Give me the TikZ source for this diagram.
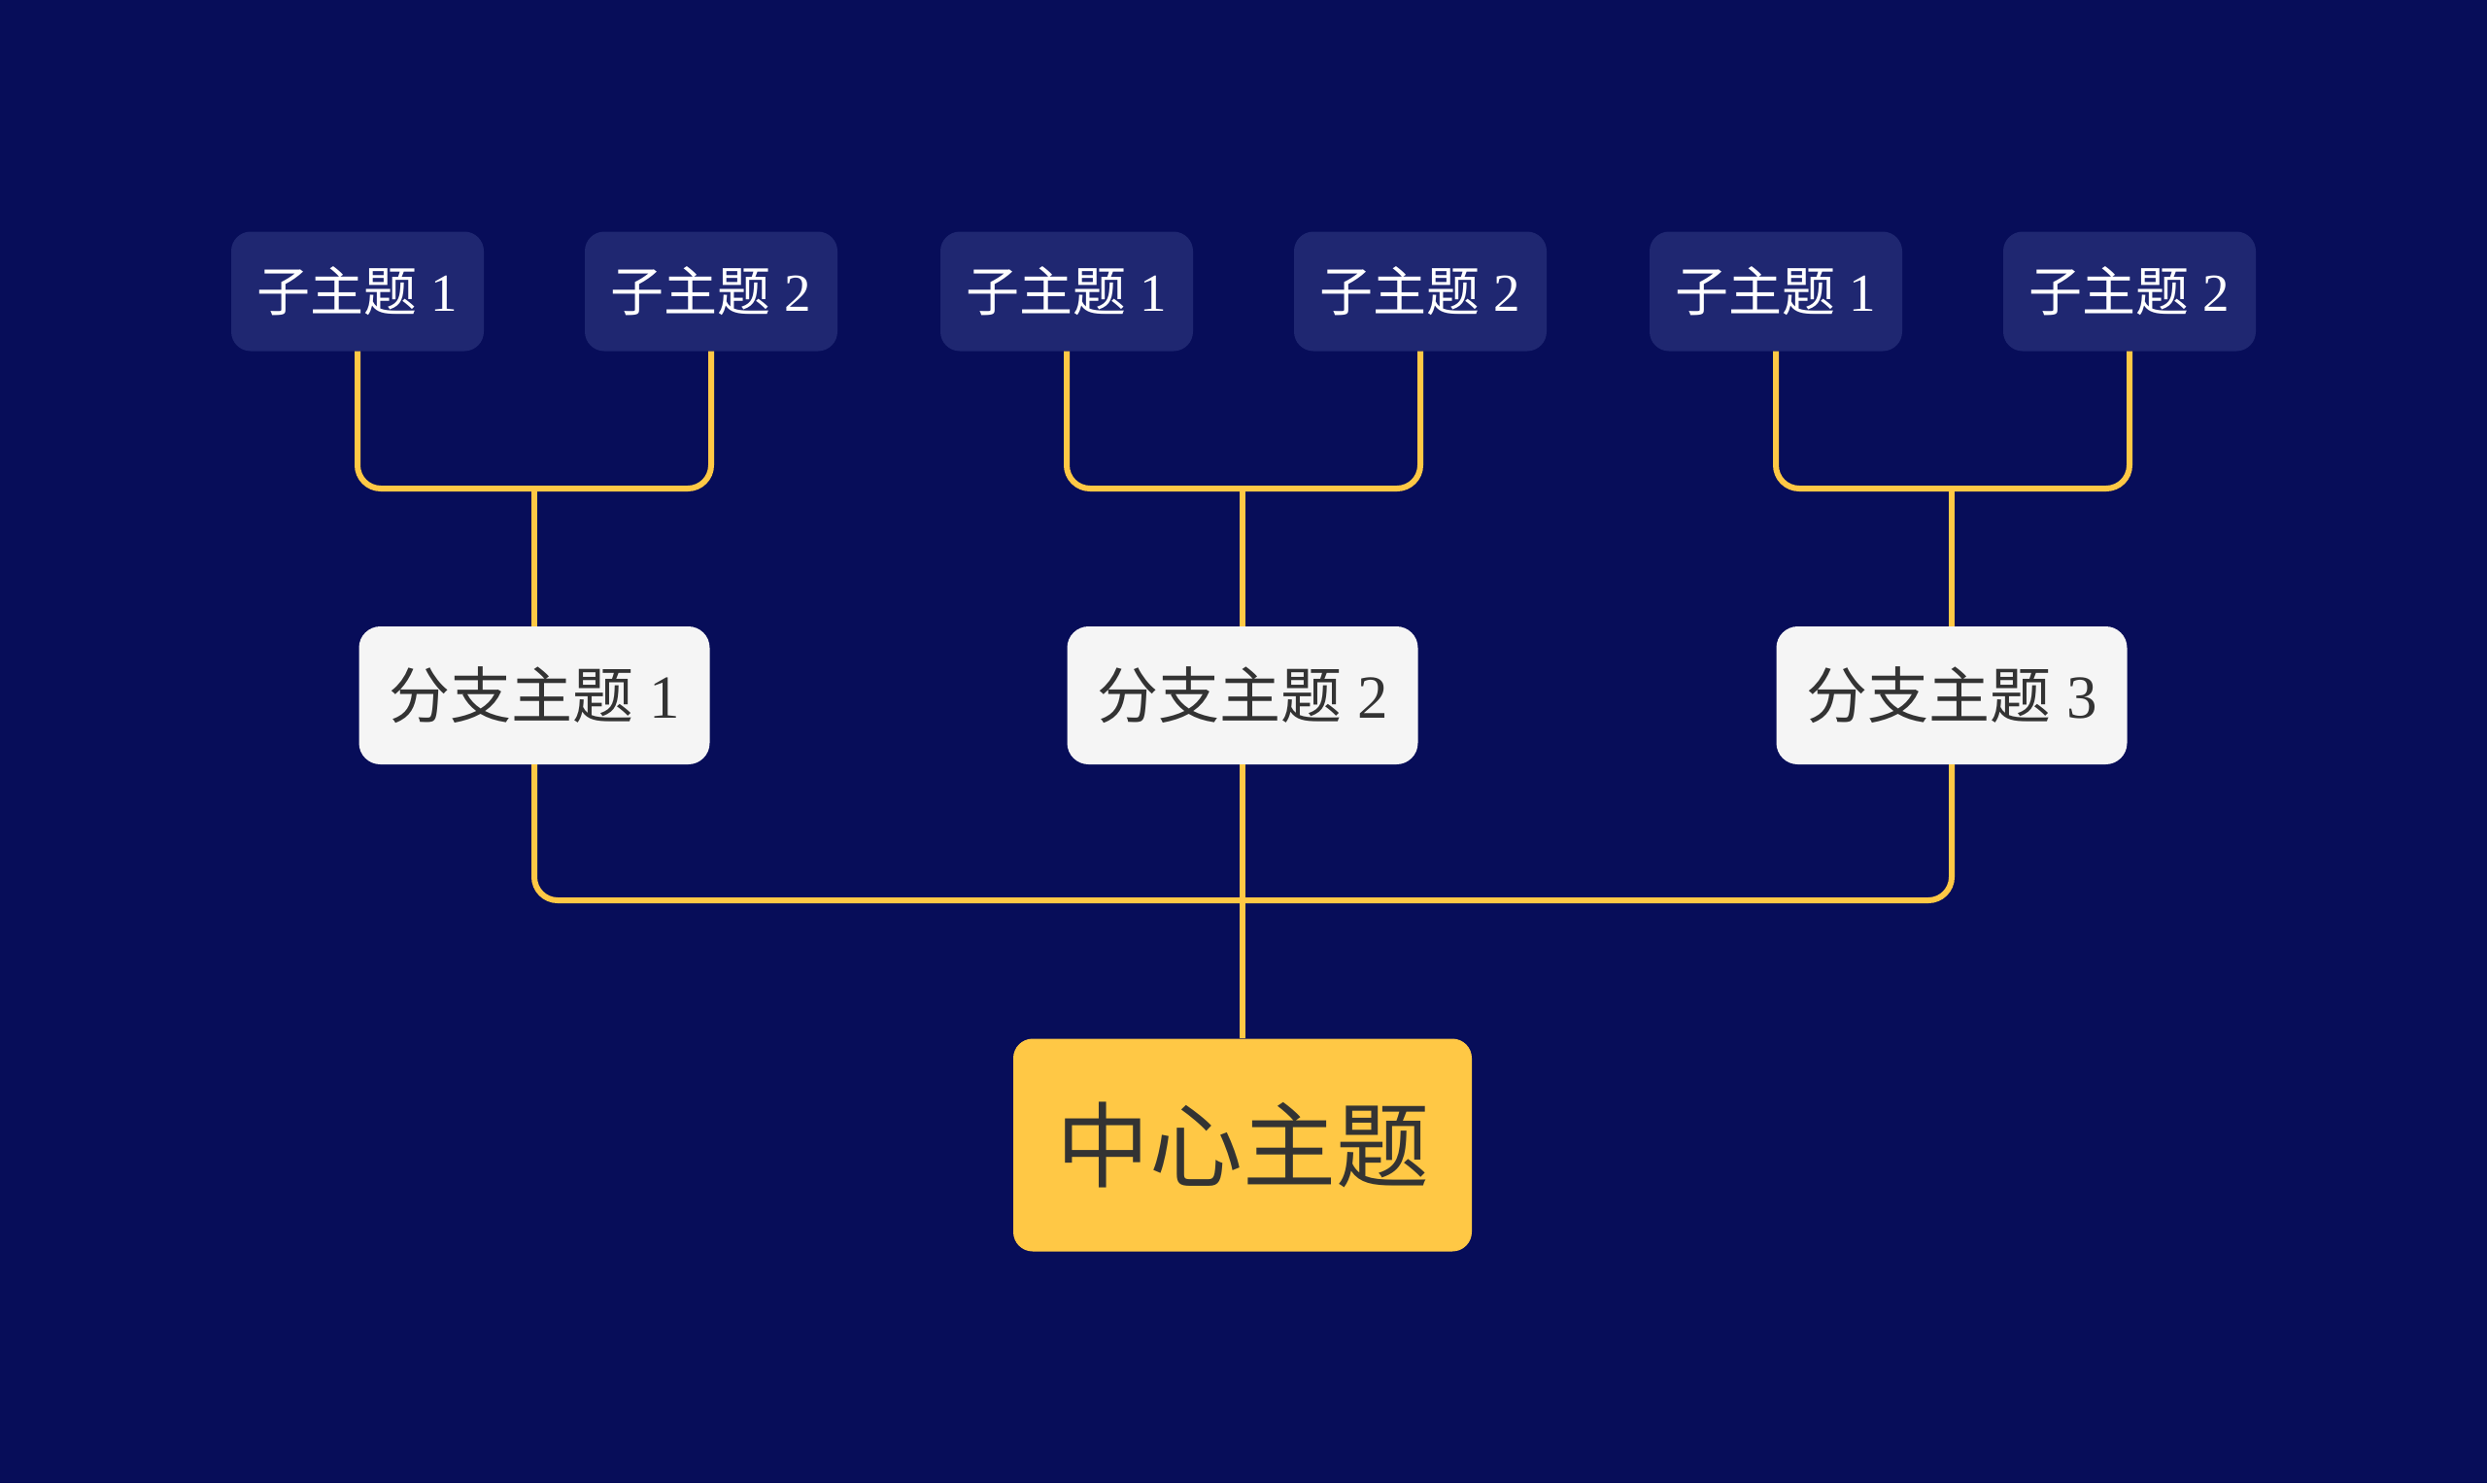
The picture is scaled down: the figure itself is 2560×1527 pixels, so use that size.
\documentclass[tikz,border=0pt]{standalone}
\usepackage{fontspec}
\setmainfont{Liberation Serif}
\newfontfamily\cjk{Noto Sans CJK SC}
\definecolor{bgc}{HTML}{070D59}
\definecolor{leafc}{HTML}{1F2771}
\definecolor{branchc}{HTML}{F5F5F5}
\definecolor{centerc}{HTML}{FFC845}
\definecolor{linec}{HTML}{FFC845}
\definecolor{darktext}{HTML}{333333}
\tikzset{
  leaf/.style={draw=none, fill=leafc, rounded corners=20pt, minimum width=260pt, minimum height=123pt,
    text=white, inner sep=0pt, font=\fontsize{55}{64}\selectfont},
  branch/.style={draw=none, fill=branchc, rounded corners=22pt, minimum width=361pt, minimum height=142pt,
    text=darktext, inner sep=0pt, font=\fontsize{63}{72}\selectfont},
  central/.style={draw=none, fill=centerc, rounded corners=20pt, minimum width=472pt, minimum height=219pt,
    text=darktext, inner sep=0pt, font=\fontsize{96}{112}\selectfont},
  conn/.style={draw=linec, line width=6pt, rounded corners=24pt},
}
\begin{document}
\begin{tikzpicture}[x=1pt,y=-1pt]
\useasboundingbox (0,0) rectangle (2560,1527);
\fill[bgc] (0,0) rectangle (2560,1527);
% leaves
\node[leaf] (l11) at (368,300) {{\cjk 子主题} 1};
\node[leaf] (l12) at (732,300) {{\cjk 子主题} 2};
\node[leaf] (l21) at (1098,300) {{\cjk 子主题} 1};
\node[leaf] (l22) at (1462,300) {{\cjk 子主题} 2};
\node[leaf] (l31) at (1828,300) {{\cjk 子主题} 1};
\node[leaf] (l32) at (2192,300) {{\cjk 子主题} 2};
% branches
\node[branch] (b1) at (550,716) {{\cjk 分支主题} 1};
\node[branch] (b2) at (1279,716) {{\cjk 分支主题} 2};
\node[branch] (b3) at (2009,716) {{\cjk 分支主题} 3};
% center
\node[central] (c) at (1279,1179) {\cjk 中心主题};
% junctions
\coordinate (j1) at (550,503);
\coordinate (j2) at (1279,503);
\coordinate (j3) at (2009,503);
\coordinate (jc) at (1279,927);
% connectors
\draw[conn] (l11.south) |- (j1) -| (l12.south);
\draw[conn] (l21.south) |- (j2) -| (l22.south);
\draw[conn] (l31.south) |- (j3) -| (l32.south);
\draw[conn] (b1.north) -- (j1);
\draw[conn] (b2.north) -- (j2);
\draw[conn] (b3.north) -- (j3);
\draw[conn] (b1.south) |- (jc) -| (b3.south);
\draw[conn] (b2.south) -- (c.north);
\end{tikzpicture}
\end{document}
